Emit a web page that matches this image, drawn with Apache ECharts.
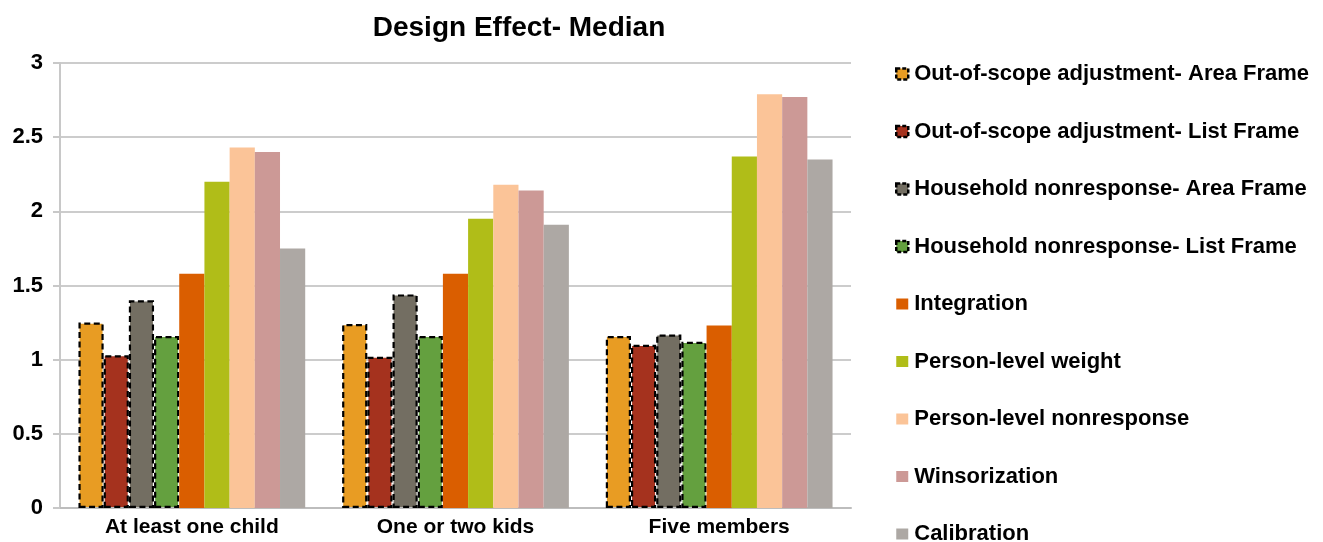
<!DOCTYPE html>
<html>
<head>
<meta charset="utf-8">
<script src="https://cdn.jsdelivr.net/npm/echarts@6/dist/echarts.min.js"></script>
<style>
  html, body { margin: 0; padding: 0; background: #fff; }
  #chart { width: 1323px; height: 542px; }
</style>
</head>
<body>
<div id="chart"></div>
<script>
// Household subgroups on the x axis
const categories = ['At least one child', 'One or two kids', 'Five members'];

// Median design effect for each weighting step
const outOfScopeArea   = [1.25, 1.24, 1.16];
const outOfScopeList   = [1.03, 1.02, 1.10];
const hhNonrespArea    = [1.40, 1.44, 1.17];
const hhNonrespList    = [1.16, 1.16, 1.12];
const integration      = [1.58, 1.58, 1.23];
const personWeight     = [2.20, 1.95, 2.37];
const personNonresp    = [2.43, 2.18, 2.79];
const winsorization    = [2.40, 2.14, 2.77];
const calibration      = [1.75, 1.91, 2.35];

const yTicks = [0, 0.5, 1, 1.5, 2, 2.5, 3];

const seriesDefs = [
  { name: 'Out-of-scope adjustment- Area Frame', data: outOfScopeArea, color: '#E89C23', dashed: true },
  { name: 'Out-of-scope adjustment- List Frame', data: outOfScopeList, color: '#A5321E', dashed: true },
  { name: 'Household nonresponse- Area Frame', data: hhNonrespArea, color: '#736E62', dashed: true },
  { name: 'Household nonresponse- List Frame', data: hhNonrespList, color: '#64A03F', dashed: true },
  { name: 'Integration', data: integration, color: '#DA5E00' },
  { name: 'Person-level weight', data: personWeight, color: '#B0BD18' },
  { name: 'Person-level nonresponse', data: personNonresp, color: '#FBC498' },
  { name: 'Winsorization', data: winsorization, color: '#CC9996' },
  { name: 'Calibration', data: calibration, color: '#ADA8A4' }
];

const sans = '"Liberation Sans", Arial, Helvetica, sans-serif';

const dashStyle = (color) => ({
  color: color,
  borderColor: '#000',
  borderWidth: 2.2,
  borderType: [6, 3.5]
});

const chart = echarts.init(document.getElementById('chart'), null, { renderer: 'canvas' });

chart.setOption({
  animation: false,
  backgroundColor: '#fff',
  title: {
    text: 'Design Effect- Median',
    left: 514,
    textAlign: 'center',
    top: 9,
    textStyle: { fontFamily: sans, fontWeight: 'bold', fontSize: 28, color: '#000' }
  },
  legend: {
    orient: 'vertical',
    left: 895,
    top: 63,
    height: 520,
    padding: 0,
    itemWidth: 12,
    itemHeight: 11,
    itemGap: 35.5,
    icon: 'rect',
    textStyle: { fontFamily: sans, fontWeight: 'bold', fontSize: 22, color: '#000', lineHeight: 22, padding: [0, 0, 0, 1] },
    data: seriesDefs.map(s => ({
      name: s.name,
      itemStyle: s.dashed
        ? { color: s.color, borderColor: '#000', borderWidth: 2.5, borderType: [4, 2] }
        : { color: s.color, borderWidth: 0 }
    }))
  },
  grid: { left: 60, right: 1323 - 851, top: 63, bottom: 542 - 508, containLabel: false },
  xAxis: {
    type: 'category',
    data: categories,
    axisLine: { show: true, lineStyle: { color: '#BDBDBD', width: 2 } },
    axisTick: { show: false },
    axisLabel: { fontFamily: sans, fontWeight: 'bold', fontSize: 21, color: '#000', margin: 9 }
  },
  yAxis: {
    type: 'value',
    min: 0,
    max: 3,
    interval: 0.5,
    axisLine: { show: true, lineStyle: { color: '#C8C8C8', width: 2 } },
    axisTick: { show: true, length: 7, lineStyle: { color: '#C8C8C8', width: 2 } },
    splitLine: { show: true, lineStyle: { color: '#CCCCCC', width: 2 } },
    axisLabel: {
      fontFamily: sans, fontWeight: 'bold', fontSize: 22, color: '#000', margin: 17,
      formatter: (v) => yTicks.includes(v) ? String(v) : ''
    }
  },
  series: seriesDefs.map(s => ({
    name: s.name,
    type: 'bar',
    data: s.data,
    barGap: '0%',
    barCategoryGap: '14%',
    itemStyle: s.dashed ? dashStyle(s.color) : { color: s.color }
  }))
});
</script>
</body>
</html>
